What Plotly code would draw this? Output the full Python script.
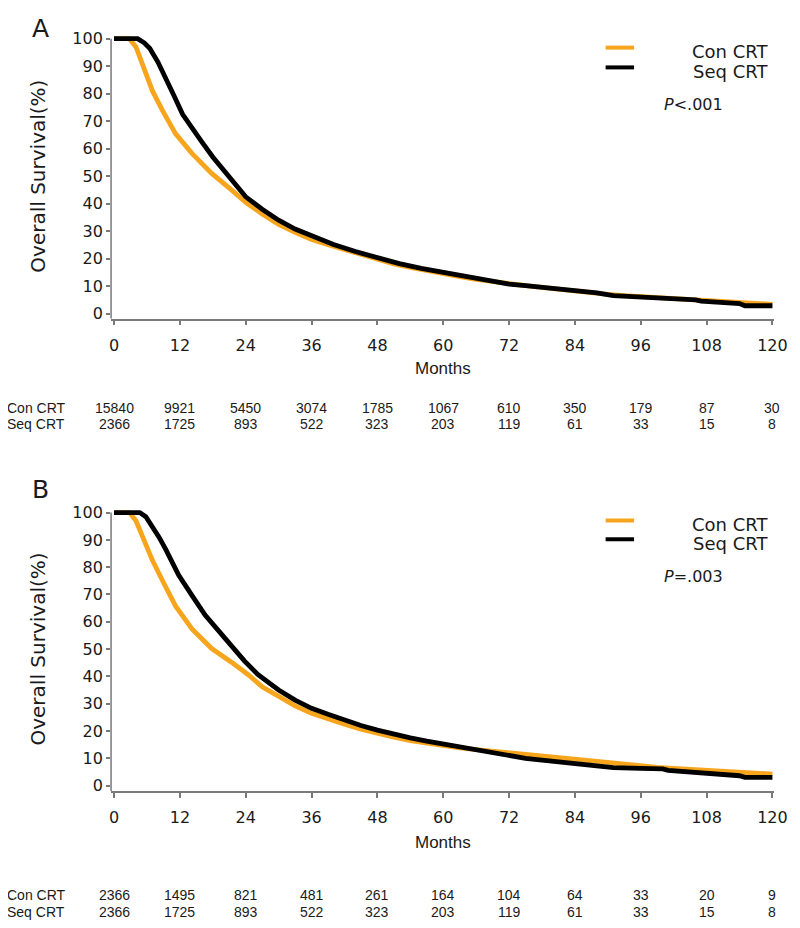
import plotly.graph_objects as go

W, H = 800, 928
OFF = 8  # page body margin of the browser; coordinates below are screen pixels

# ---------------- data ----------------
tick_months = [0, 12, 24, 36, 48, 60, 72, 84, 96, 108, 120]
y_ticks = [0, 10, 20, 30, 40, 50, 60, 70, 80, 90, 100]

a_con_m = [0, 2.8, 4, 5.2, 7, 8.8, 11.2, 14.2, 17.8, 21.4, 24, 27, 30, 33, 36, 39, 42, 45, 48, 51, 54, 57, 60,
           63, 66, 69, 72, 75, 78, 81, 84, 87, 90, 93, 96, 99, 102, 105, 108, 111, 114, 117, 120]
a_con_s = [100, 100, 97, 90.6, 81, 74, 65.5, 58.3, 51, 45, 40.5, 36.3, 32.5, 29.6, 27, 25.1, 23.3, 21.3, 19.5, 18.1,
           16.8, 15.6, 14.5, 13.5, 12.5, 11.6, 10.8, 10.2, 9.6, 8.9, 8.3, 7.6, 7.0, 6.6, 6.2, 5.9, 5.6, 5.2, 4.9,
           4.5, 4.0, 3.6, 3.4]

a_seq_m = [0, 4.3, 5.5, 6.5, 8, 9.5, 11, 12.5, 14, 16, 18, 21, 24, 27, 30, 33, 36, 40, 44, 48, 52, 56, 60, 63,
           66, 69, 72, 75, 78, 81, 84, 87, 88, 91, 96, 100, 101, 106, 107, 110, 113, 114, 115, 120]
a_seq_s = [100, 100, 98.5, 96.5, 91.5, 85.5, 79, 72.5, 68, 62.5, 57, 49.5, 42.5, 38, 34, 30.8, 28.3, 25.2, 22.6,
           20.3, 18.2, 16.5, 15.1, 13.8, 12.8, 11.8, 10.8, 10.2, 9.6, 8.9, 8.1, 7.9, 7.6, 6.6, 6.1, 6.0, 5.6, 5.0,
           4.6, 4.3, 4.0, 3.7, 2.9, 2.9]

b_con_m = [0, 2.8, 4, 5.2, 7, 8.8, 11.2, 14.2, 17.8, 21.4, 24.4, 27, 30, 33, 36, 39, 42, 45, 48, 51, 54, 57, 60,
           63, 66, 69, 72, 75, 78, 81, 84, 87, 90, 93, 96, 99, 102, 105, 108, 111, 114, 117, 120]
b_con_s = [100, 100, 97, 91.2, 82.5, 75.2, 65.8, 57.4, 50.2, 45.2, 40.7, 36.2, 32.5, 29.2, 26.5, 24.4, 22.5, 20.7,
           19, 17.7, 16.5, 15.5, 14.5, 13.8, 13.2, 12.6, 12, 11.4, 10.8, 10.2, 9.5, 8.8, 8.2, 7.6, 7.1, 6.7, 6.3,
           5.9, 5.4, 5.1, 4.8, 4.4, 4.2]

b_seq_m = [0, 4.7, 5.8, 7, 8.2, 9.4, 11.8, 14.2, 16.6, 20.2, 23.8, 26.2, 30, 33, 36, 39, 42, 45, 48, 51, 54, 57,
           60, 63, 66, 69, 72, 75, 78, 81, 84, 87, 88, 91, 96, 100, 101, 106, 108, 113, 114, 115, 120]
b_seq_s = [100, 100, 98.5, 95, 91, 86.6, 77, 69.7, 62.5, 54, 45.6, 40.7, 35, 31.3, 28.3, 26.1, 24, 22, 20.3, 18.8,
           17.5, 16.3, 15.2, 14.1, 13, 11.9, 10.8, 10, 9.3, 8.6, 7.9, 7.6, 7.3, 6.6, 6.3, 6.1, 5.6, 4.8, 4.5, 4.0,
           3.6, 3.0, 3.0]

risk_a_con = [15840, 9921, 5450, 3074, 1785, 1067, 610, 350, 179, 87, 30]
risk_a_seq = [2366, 1725, 893, 522, 323, 203, 119, 61, 33, 15, 8]
risk_b_con = [2366, 1495, 821, 481, 261, 164, 104, 64, 33, 20, 9]
risk_b_seq = [2366, 1725, 893, 522, 323, 203, 119, 61, 33, 15, 8]

series_names = ["Con CRT", "Seq CRT"]
p_values = ["<i>P</i><.001", "<i>P</i>=.003"]
panel_letters = ["A", "B"]

# ---------------- style ----------------
ORANGE = "#F7A51C"
BLACK = "#000000"
AXIS = "#7a7a7a"
TXT = "#1a1a1a"
FONT = "DejaVu Sans"
NARROW = "Liberation Sans"


def px(x):
    return (x - OFF) / W


def py(y):
    return 1 - (y - OFF) / H


fig = go.Figure()

panels = [
    dict(xa="x", ya="y", con=(a_con_m, a_con_s), seq=(a_seq_m, a_seq_s)),
    dict(xa="x2", ya="y2", con=(b_con_m, b_con_s), seq=(b_seq_m, b_seq_s)),
]
for p in panels:
    fig.add_trace(go.Scatter(x=p["con"][0], y=p["con"][1], mode="lines", xaxis=p["xa"], yaxis=p["ya"],
                             line=dict(color=ORANGE, width=4.8), name=series_names[0], showlegend=False))
    fig.add_trace(go.Scatter(x=p["seq"][0], y=p["seq"][1], mode="lines", xaxis=p["xa"], yaxis=p["ya"],
                             line=dict(color=BLACK, width=4.8), name=series_names[1], showlegend=False))

x_dom = [px(111), px(787)]
x_rng = [-0.54, 120.36]

geo = [
    # (y range, top px, bottom px)
    ([-1.8, 101.5], 29.8, 317.0),
    ([-2.0, 101.5], 508.9, 794.5),
]

common_x = dict(range=x_rng, domain=x_dom, tickvals=tick_months, ticks="outside", ticklen=5, tickwidth=1.5,
                tickcolor=AXIS, showline=True, linecolor=AXIS, linewidth=1.5, showgrid=False, zeroline=False,
                tickfont=dict(family=FONT, size=16, color=TXT), ticklabelstandoff=6)
common_y = dict(tickvals=y_ticks, ticks="outside", ticklen=4, tickwidth=1.5, tickcolor=AXIS, showline=False,
                showgrid=False, zeroline=False, tickfont=dict(family=FONT, size=16, color=TXT))

fig.update_layout(
    width=W, height=H, margin=dict(l=0, r=0, t=0, b=0),
    paper_bgcolor="white", plot_bgcolor="white", showlegend=False,
    xaxis=dict(anchor="y", **common_x),
    yaxis=dict(anchor="x", range=geo[0][0], domain=[py(geo[0][2]), py(geo[0][1])], **common_y),
    xaxis2=dict(anchor="y2", **common_x),
    yaxis2=dict(anchor="x2", range=geo[1][0], domain=[py(geo[1][2]), py(geo[1][1])], **common_y),
)

shapes = []
annotations = []

layout_px = [
    dict(title_y=173, months_y=367, risk_y=(407, 423), leg_y=(43, 63), leg_t=(47, 67), p_y=100,
         ya="y", xa="x", ymin=-1.8),
    dict(title_y=651, months_y=847, risk_y=(900, 917), leg_y=(521, 540), leg_t=(525, 544), p_y=578,
         ya="y2", xa="x2", ymin=-2.0),
]
risks = [(risk_a_con, risk_a_seq), (risk_b_con, risk_b_seq)]

# panel letters: A pinned to the top of the page, B at its place
annotations.append(dict(xref="paper", yref="paper", x=px(39), y=1, text=panel_letters[0], borderpad=0,
                        showarrow=False, xanchor="center", yanchor="top",
                        font=dict(family=FONT, size=25, color=TXT)))
annotations.append(dict(xref="paper", yref="paper", x=px(39), y=py(490), text=panel_letters[1],
                        showarrow=False, xanchor="center", yanchor="middle",
                        font=dict(family=FONT, size=25, color=TXT)))

for i, L in enumerate(layout_px):
    # y-axis line from bottom to 100
    shapes.append(dict(type="line", xref=L["xa"] + " domain", yref=L["ya"], x0=0, x1=0, y0=L["ymin"], y1=100,
                       line=dict(color=AXIS, width=1.5)))
    # legend samples
    for j, col in enumerate([ORANGE, BLACK]):
        shapes.append(dict(type="line", xref="paper", yref="paper", x0=px(615), x1=px(644),
                           y0=py(L["leg_y"][j]), y1=py(L["leg_y"][j]), line=dict(color=col, width=4)))
        annotations.append(dict(xref="paper", yref="paper", x=px(783), y=py(L["leg_t"][j]), text=series_names[j],
                                showarrow=False, xanchor="right", yanchor="middle",
                                font=dict(family=FONT, size=18, color=TXT)))
    annotations.append(dict(xref="paper", yref="paper", x=px(672), y=py(L["p_y"]), text=p_values[i],
                            showarrow=False, xanchor="left", yanchor="middle",
                            font=dict(family=FONT, size=16, color=TXT)))
    # y title
    annotations.append(dict(xref="paper", yref="paper", x=px(37), y=py(L["title_y"]), text="Overall Survival(%)",
                            textangle=-90, showarrow=False, xanchor="center", yanchor="middle",
                            font=dict(family=FONT, size=20, color=TXT)))
    # x title
    annotations.append(dict(xref=L["xa"], yref="paper", x=60, y=py(L["months_y"]), text="Months",
                            showarrow=False, xanchor="center", yanchor="middle",
                            font=dict(family=NARROW, size=17, color=TXT)))
    # risk table
    for j in range(2):
        annotations.append(dict(xref="paper", yref="paper", x=px(3), y=py(L["risk_y"][j]), text=series_names[j],
                                showarrow=False, xanchor="left", yanchor="middle",
                                font=dict(family=NARROW, size=14, color=TXT)))
        for m, n in zip(tick_months, risks[i][j]):
            annotations.append(dict(xref=L["xa"], yref="paper", x=m, y=py(L["risk_y"][j]), text=str(n),
                                    showarrow=False, xanchor="center", yanchor="middle",
                                    font=dict(family=NARROW, size=14, color=TXT)))

fig.update_layout(shapes=shapes, annotations=annotations)
fig.write_html("out.html")
